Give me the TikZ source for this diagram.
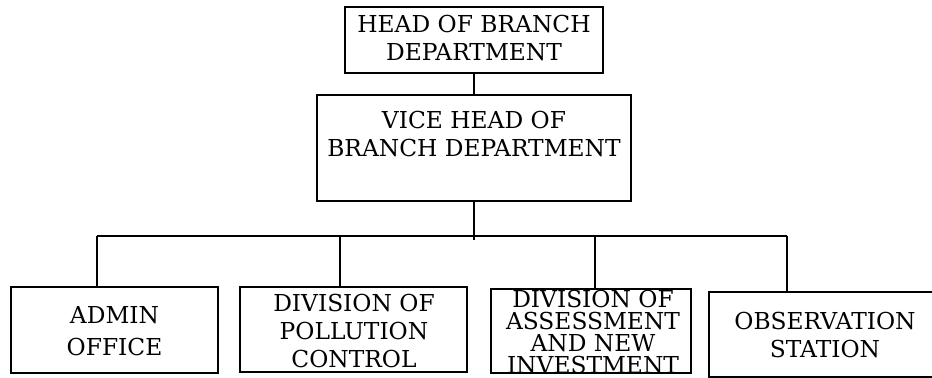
\documentclass[tikz,border=0pt]{standalone}
\usepackage{fontspec}
\setmainfont{DejaVu Serif}
\begin{document}
\begin{tikzpicture}[x=0.75pt,y=-0.75pt,
  unitbox/.style 2 args={draw=black, line width=1.2pt, inner sep=0pt,
    minimum width=#1*0.75pt, minimum height=#2*0.75pt},
  lbl/.style={align=center, inner sep=0pt, text=black,
    font=\fontsize{17.5}{21}\selectfont},
  link/.style={draw=black, line width=1.2pt}]
  % page area
  \fill[white] (0,0) rectangle (932,378);
  \useasboundingbox (0,0) rectangle (932,378);
  \clip (0,0) rectangle (932,378);

  % boxes
  \node[unitbox={258}{66}]  (head)   at (474,40)    {};
  \node[unitbox={314}{106}] (vice)   at (474,148)   {};
  \node[unitbox={207}{86}]  (admin)  at (114.5,330) {};
  \node[unitbox={227}{85}]  (pollut) at (353.5,329.5) {};
  \node[unitbox={200}{84}]  (assess) at (591,331)   {};
  \node[unitbox={232}{85}]  (obs)    at (825,334.5) {};

  % texts
  \node[lbl] (head-t)   at (474,38.5)  {HEAD OF BRANCH\\DEPARTMENT};
  \node[lbl] (vice-t)   at (474,134)   {VICE HEAD OF\\BRANCH DEPARTMENT};
  \node[lbl, font=\fontsize{17.5}{24}\selectfont] (admin-t) at (114.5,331) {ADMIN\\OFFICE};
  \node[lbl] (pollut-t) at (354,331.5) {DIVISION OF\\POLLUTION\\CONTROL};
  \node[lbl, font=\fontsize{17.5}{16.5}\selectfont] (assess-t) at (593,332) {DIVISION OF\\ASSESSMENT\\AND NEW\\INVESTMENT};
  \node[lbl] (obs-t)    at (825,335.5) {OBSERVATION\\STATION};

  % bus line and the points where the branches leave it
  \coordinate (bus-l) at (97,236);
  \coordinate (bus-r) at (787,236);
  \coordinate (drop2) at (340,236);
  \coordinate (drop3) at (595,236);
  \coordinate (stub)  at (474,240);

  % connectors
  \draw[link] (head.south) -- (vice.north);
  \draw[link] (vice.south) -- (stub);
  \draw[link] (bus-l) -- (bus-r);
  \draw[link] (bus-l) -- (bus-l |- admin.north);
  \draw[link] (drop2) -- (drop2 |- pollut.north);
  \draw[link] (drop3) -- (drop3 |- assess.north);
  \draw[link] (bus-r) -- (bus-r |- obs.north);
\end{tikzpicture}
\end{document}
